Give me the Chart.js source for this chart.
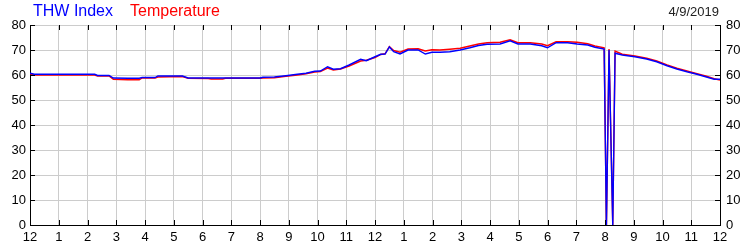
<!DOCTYPE html>
<html>
<head>
<meta charset="utf-8">
<script src="https://cdn.jsdelivr.net/npm/chart.js@4/dist/chart.umd.min.js"></script>
<style>
  body { margin: 0; background: #fff; }
  #wrap { position: relative; width: 750px; height: 250px; font-family: "Liberation Sans", Arial, sans-serif; }
  #legend { position: absolute; left: 33px; top: 2px; font-size: 16px; }
  #legend span { margin-right: 17px; }
  #date { position: absolute; right: 31px; top: 4px; font-size: 13px; color: #222; }
  canvas { position: absolute; left: 0; top: 0; }
</style>
</head>
<body>
<div id="wrap">
  <canvas id="c" width="750" height="250"></canvas>
  <div id="legend"><span style="color:#0000ff">THW Index</span><span style="color:#ff0000">Temperature</span></div>
  <div id="date">4/9/2019</div>
</div>
<script>
const hourLabels = ["12", "1", "2", "3", "4", "5", "6", "7", "8", "9", "10", "11",
  "12", "1", "2", "3", "4", "5", "6", "7", "8", "9", "10", "11", "12"];

// hours since midnight
const hours = [0, 0.15, 1, 2, 2.25, 2.35, 2.75, 2.9, 3.4, 3.8, 3.9, 4.35, 4.45, 5.3, 5.5,
  6.2, 6.3, 6.7, 6.8, 8, 8.1, 8.5, 8.9, 9.3, 9.6, 9.9, 10.1, 10.35, 10.55, 10.8,
  11.1, 11.5, 11.7, 12, 12.2, 12.35, 12.5, 12.65, 12.87, 13.15, 13.5, 13.75, 13.98,
  14.26, 14.6, 14.96, 15.3, 15.6, 15.9, 16.35, 16.7, 16.97, 17.4, 17.8, 18, 18.3,
  18.7, 19.03, 19.4, 19.65, 19.97, 20.05, 20.14, 20.27, 20.35, 20.6, 21.04, 21.45,
  21.8, 22.16, 22.5, 22.85, 23.2, 23.5, 23.8, 24];

const thwIndex = [60.7, 60.3, 60.3, 60.3, 60.3, 59.8, 59.8, 58.8, 58.7, 58.7, 59.0, 59.0, 59.6, 59.6, 58.8,
  58.8, 58.8, 58.8, 58.8, 58.8, 59.1, 59.2, 59.7, 60.3, 60.7, 61.5, 61.6, 63.3, 62.3, 62.5,
  64.0, 66.3, 65.7, 67.3, 68.3, 68.4, 71.2, 69.3, 68.4, 70.0, 70.0, 68.4, 69.1,
  69.1, 69.3, 70.0, 70.9, 71.8, 72.3, 72.4, 73.7, 72.4, 72.4, 71.7, 70.9, 72.9,
  72.9, 72.4, 72.0, 71.1, 70.4, 0, 70.0, 0, 68.7, 68.0, 67.3, 66.4,
  65.3, 63.7, 62.4, 61.3, 60.3, 59.3, 58.3, 58.3];

const temperature = [60.5, 60.0, 60.0, 60.0, 60.0, 59.6, 59.6, 58.3, 58.1, 58.1, 58.8, 58.8, 59.2, 59.4, 58.7,
  58.6, 58.4, 58.4, 58.7, 58.7, 58.8, 58.9, 59.5, 60.0, 60.5, 61.2, 61.4, 62.8, 62.0, 62.4,
  63.6, 65.6, 65.9, 67.0, 68.2, 68.5, 71.4, 69.8, 69.1, 70.4, 70.5, 69.6, 70.1,
  70.0, 70.3, 70.7, 71.6, 72.4, 72.9, 73.1, 74.1, 72.9, 72.9, 72.4, 71.7, 73.3,
  73.3, 73.1, 72.5, 71.6, 70.9, 0, 70.4, 0, 69.6, 68.3, 67.6, 66.7,
  65.6, 64.0, 62.7, 61.6, 60.5, 59.6, 58.5, 58.0];

const toPoints = (vals) => hours.map((h, i) => ({ x: h, y: vals[i] }));

// short black ticks drawn inward on all four sides
const innerTicks = {
  id: "innerTicks",
  afterDraw(chart) {
    const { ctx, chartArea: a, scales } = chart;
    ctx.save();
    ctx.strokeStyle = "#000";
    ctx.lineWidth = 1;
    ctx.beginPath();
    for (let h = 1; h < 24; h++) {
      const x = Math.round(scales.x.getPixelForValue(h)) + 0.5;
      ctx.moveTo(x, a.top); ctx.lineTo(x, a.top + 5);
      ctx.moveTo(x, a.bottom); ctx.lineTo(x, a.bottom - 5);
    }
    for (let v = 10; v <= 80; v += 10) {
      const y = Math.round(scales.y.getPixelForValue(v)) + 0.5;
      ctx.moveTo(a.left, y); ctx.lineTo(a.left + 5, y);
      ctx.moveTo(a.right, y); ctx.lineTo(a.right - 5, y);
    }
    ctx.stroke();
    ctx.restore();
  }
};

const tickFont = { family: "'Liberation Sans', Arial, sans-serif", size: 13 };

new Chart(document.getElementById("c"), {
  type: "line",
  data: {
    datasets: [
      {
        label: "THW Index",
        data: toPoints(thwIndex),
        borderColor: "#0000ff",
        borderWidth: 1.4,
        pointRadius: 0,
        tension: 0,
        yAxisID: "y",
      },
      {
        label: "Temperature",
        data: toPoints(temperature),
        borderColor: "#ff0000",
        borderWidth: 1.4,
        pointRadius: 0,
        tension: 0,
        yAxisID: "y",
      },
    ],
  },
  options: {
    responsive: false,
    animation: false,
    layout: { padding: { top: 25, left: 0, right: 0, bottom: 0 } },
    plugins: { legend: { display: false }, tooltip: { enabled: false } },
    scales: {
      x: {
        type: "linear",
        min: 0,
        max: 24,
        afterFit: (s) => { s.height = 25; },
        ticks: {
          stepSize: 1,
          autoSkip: false,
          maxRotation: 0,
          padding: 5,
          color: "#000",
          font: tickFont,
          callback: (v) => hourLabels[v],
        },
        grid: { color: "#cccccc", drawTicks: false },
        border: { color: "#000" },
      },
      y: {
        position: "left",
        min: 0,
        max: 80,
        afterFit: (s) => { s.width = 30; },
        ticks: { stepSize: 10, padding: 4, color: "#000", font: tickFont },
        grid: { color: "#cccccc", drawTicks: false },
        border: { color: "#000" },
      },
      y2: {
        position: "right",
        min: 0,
        max: 80,
        afterFit: (s) => { s.width = 30; },
        ticks: { stepSize: 10, padding: 6, color: "#000", font: tickFont },
        grid: { drawOnChartArea: false, drawTicks: false },
        border: { color: "#000" },
      },
    },
  },
  plugins: [innerTicks],
});
</script>
</body>
</html>
